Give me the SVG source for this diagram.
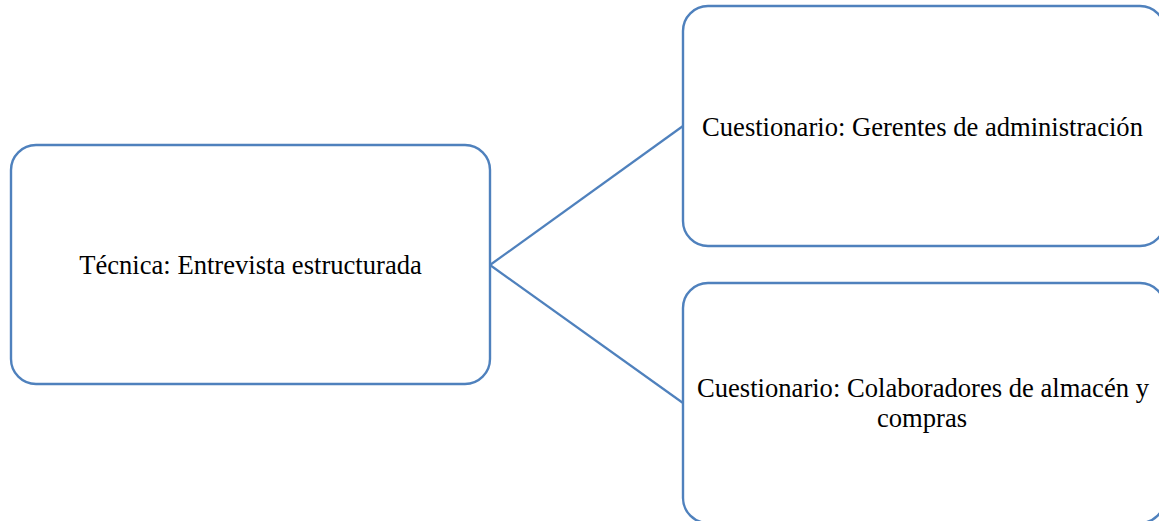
<svg xmlns="http://www.w3.org/2000/svg" width="1159" height="521" viewBox="0 0 1159 521">
<style>
.box{fill:#ffffff;stroke:#4f81bd;stroke-width:2.4}
.lbl{font-family:"Liberation Serif","Times New Roman",serif;font-size:26.6px;fill:#000;text-anchor:middle}
.con{stroke:#4f81bd;stroke-width:2.2;fill:none}
</style>
<rect width="1159" height="521" fill="#ffffff"/>
<g id="connectors">
<line class="con" x1="490" y1="265" x2="683" y2="126"/>
<line class="con" x1="490" y1="265" x2="683" y2="403"/>
</g>
<g id="node-tecnica">
<rect class="box" x="11" y="145" width="479" height="239" rx="25" ry="25"/>
<text class="lbl" x="250.5" y="274">Técnica: Entrevista estructurada</text>
</g>
<g id="node-gerentes">
<rect class="box" x="683" y="6" width="482" height="240" rx="25" ry="25"/>
<text class="lbl" x="922.5" y="136">Cuestionario: Gerentes de administración</text>
</g>
<g id="node-colaboradores">
<rect class="box" x="683" y="283" width="482" height="240" rx="25" ry="25"/>
<text class="lbl" x="923" y="397">Cuestionario: Colaboradores de almacén y</text>
<text class="lbl" x="922" y="427">compras</text>
</g>
</svg>
